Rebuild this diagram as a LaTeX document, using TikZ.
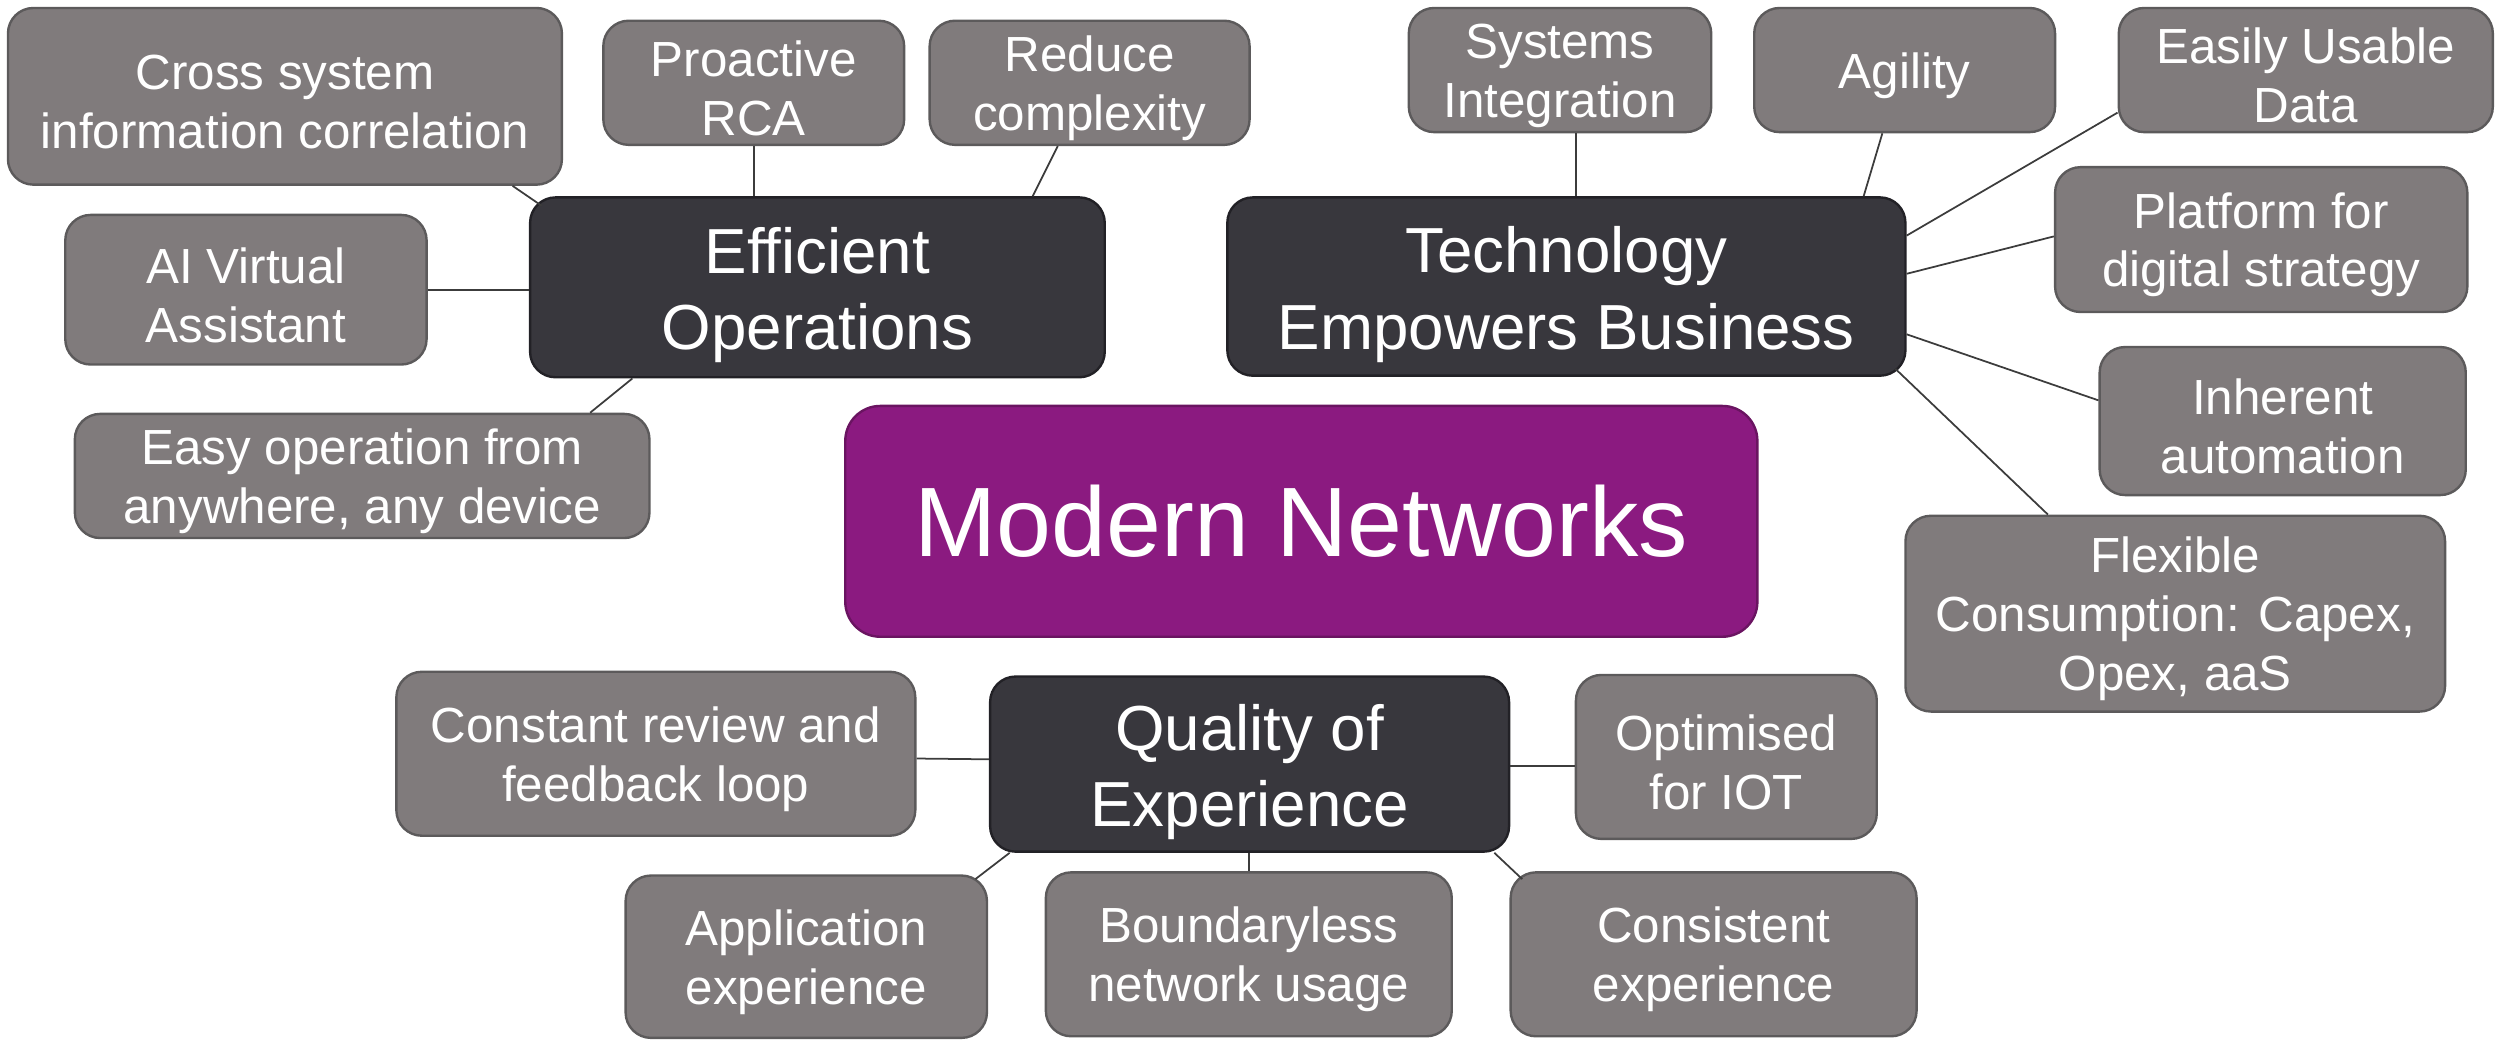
\documentclass[tikz,border=0pt]{standalone}
\usepackage{fontspec}
\setmainfont{Liberation Sans}
\definecolor{leafgray}{HTML}{807B7C}
\definecolor{leafline}{HTML}{5C5A5B}
\definecolor{hubdark}{HTML}{38373D}
\definecolor{hubline}{HTML}{222126}
\definecolor{corepurple}{HTML}{8B1A80}
\definecolor{coreline}{HTML}{6A1461}
\definecolor{linkgray}{HTML}{3C3C3C}
% taller first line, so the text sits a little lower in its box
\newcommand{\leafpad}{\rule{0pt}{29pt}}
\newcommand{\hubpad}{\rule{0pt}{39pt}}
\begin{document}
\begin{tikzpicture}[x=1pt, y=-1pt,
    leaf/.style={draw=leafline, fill=leafgray, line width=1.5pt, rounded corners=16pt, text=white, align=center, inner sep=0pt, font=\fontsize{31}{37}\selectfont},
    hub/.style={draw=hubline, fill=hubdark, line width=1.5pt, rounded corners=16pt, text=white, align=center, inner sep=0pt, font=\fontsize{40}{48}\selectfont},
    core/.style={draw=coreline, fill=corepurple, line width=1.5pt, rounded corners=22pt, text=white, align=center, inner sep=0pt, font=\fontsize{62}{70}\selectfont},
    link/.style={draw=linkgray, line width=1.1pt}]
    \useasboundingbox (0,0) rectangle (1568,656.5);
    % hubs
    \node[core, minimum width=573pt, minimum height=145pt] (mn) at (817.5,327.5) {Modern Networks};
    \node[hub, minimum width=361pt, minimum height=113pt] (eo) at (513.5,180.5) {\hubpad Efficient\\Operations};
    \node[hub, minimum width=426pt, minimum height=112pt] (teb) at (984,180) {\hubpad Technology\\Empowers Business};
    \node[hub, minimum width=326pt, minimum height=110pt] (qoe) at (785,480) {\hubpad Quality of\\Experience};
    % efficient operations
    \node[leaf, minimum width=348pt, minimum height=111pt] (cross) at (179,60.5) {\leafpad Cross system\\information correlation};
    \node[leaf, minimum width=189pt, minimum height=78pt] (rca) at (473.5,52) {\leafpad Proactive\\RCA};
    \node[leaf, minimum width=201pt, minimum height=78pt] (reduce) at (684.5,52) {\leafpad Reduce\\complexity};
    \node[leaf, minimum width=227pt, minimum height=94pt] (ai) at (154.5,182) {\leafpad AI Virtual\\Assistant};
    \node[leaf, minimum width=361pt, minimum height=78pt] (easy) at (227.5,299) {\leafpad Easy operation from\\anywhere, any device};
    % technology empowers business
    \node[leaf, minimum width=190pt, minimum height=78pt] (sys) at (980,44) {\leafpad Systems\\Integration};
    \node[leaf, minimum width=189pt, minimum height=78pt] (agility) at (1196.5,44) {\leafpad Agility};
    \node[leaf, minimum width=235pt, minimum height=78pt] (data) at (1448.5,44) {\leafpad Easily Usable\\Data};
    \node[leaf, minimum width=259pt, minimum height=91pt] (platform) at (1420.5,150.5) {\leafpad Platform for\\digital strategy};
    \node[leaf, minimum width=230pt, minimum height=93pt] (auto) at (1434,264.5) {\leafpad Inherent\\automation};
    \node[leaf, minimum width=339pt, minimum height=123pt] (flex) at (1366.5,385.5) {\leafpad Flexible\\Consumption: Capex,\\Opex, aaS};
    % quality of experience
    \node[leaf, minimum width=326pt, minimum height=103pt] (review) at (412,473.5) {\leafpad Constant review and\\feedback loop};
    \node[leaf, minimum width=189pt, minimum height=103pt] (iot) at (1084.5,475.5) {\leafpad Optimised\\for IOT};
    \node[leaf, minimum width=227pt, minimum height=102pt] (app) at (506.5,601) {\leafpad Application\\experience};
    \node[leaf, minimum width=255pt, minimum height=103pt] (bound) at (784.5,599.5) {\leafpad Boundaryless\\network usage};
    \node[leaf, minimum width=255pt, minimum height=103pt] (consist) at (1076.5,599.5) {\leafpad Consistent\\experience};
    % links
    \path[link] ([shift={(143,0)}]cross.south) edge ([shift={(8,6)}]eo.north west);
    \path[link] (rca.south) edge (rca.south |- eo.north);
    \path[link] ([shift={(-20,0)}]reduce.south) edge ([shift={(-46,0)}]eo.north east);
    \path[link] (ai.east) edge (ai.east -| eo.west);
    \path[link] ([shift={(65,0)}]eo.south west) edge ([shift={(-38,0)}]easy.north east);
    \path[link] ([shift={(10,0)}]sys.south) edge ([shift={(10,0)}]sys.south |- teb.north);
    \path[link] ([shift={(-14,0)}]agility.south) edge ([shift={(-27,0)}]teb.north east);
    \path[link] ([shift={(0,-13)}]data.south west) edge ([shift={(0,-32)}]teb.east);
    \path[link] ([shift={(0,-2)}]platform.west) edge ([shift={(0,-8)}]teb.east);
    \path[link] ([shift={(0,-13)}]auto.west) edge ([shift={(0,30)}]teb.east);
    \path[link] ([shift={(-80,0)}]flex.north) edge ([shift={(-7,-5)}]teb.south east);
    \path[link] ([shift={(0,3)}]review.east) edge ([shift={(0,-3)}]qoe.west);
    \path[link] ([shift={(0,1)}]qoe.east) edge ([shift={(0,1)}]qoe.east -| iot.west);
    \path[link] ([shift={(13,0)}]qoe.south west) edge ([shift={(-8,3)}]app.north east);
    \path[link] (bound.north) edge (bound.north |- qoe.south);
    \path[link] ([shift={(-10,0)}]qoe.south east) edge ([shift={(8,5)}]consist.north west);
\end{tikzpicture}
\end{document}
